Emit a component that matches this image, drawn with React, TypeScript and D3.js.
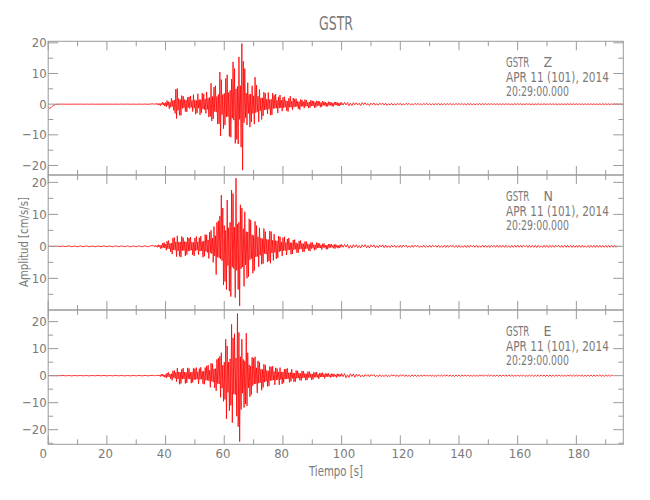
import React from "react";
import * as d3 from "d3";

// ---------------- data ----------------
const title = "GSTR";
const station = "GSTR";
const components = ["Z", "N", "E"];
const dateLabel = "APR 11 (101), 2014";
const timeLabel = "20:29:00.000";
const xLabel = "Tiempo [s]";
const yLabel = "Amplitud [cm/s/s]";
const xDomain = [0, 196];
const xTickLabels = [0, 20, 40, 60, 80, 100, 120, 140, 160, 180];
const yDomains = [
  [-23.1, 20.5],
  [-19.9, 22.3],
  [-25.4, 24.3],
];

// sampling of the segments (seconds)
const startT0 = 0, startDt = 0.5;
const quietT0 = 4, quietDt = 1;
const strongT0 = 36, strongDt = 0.25;
const tailT0 = 100, tailDt = 0.5;

// --- Z component ---
const zStart = [-0.9, -1.4, -1.1, -0.6, -0.3, -0.15, -0.05, 0];
const zQuiet = [0, 0.02, -0.02, 0.01, -0.02, 0.02, -0.01, 0.02, -0.02, 0.01, -0.01, 0.02, -0.02, 0.01, -0.02, 0.02,
  -0.01, 0.02, -0.02, 0.01, -0.02, 0.02, -0.01, 0.03, -0.02, 0.02, -0.03, 0.03, -0.02, 0.04, -0.05, 0.06];
const zStrong = [
  0.1, -0.05, 0.15, -0.1,
  0.3, -0.15, 0.2, -0.3,
  0.2, -0.5, 0.3, -0.2,
  0.7, -0.3, 0.4, -0.6,
  0.5, -0.9, 1.2, -0.4,
  0.8, -1.5, 0.6, -1,
  1.9, -0.8, 1.2, -2,
  1.3, -3, 4.9, -4.7,
  5.1, -2, 1.8, -3.6,
  1.5, -3.7, 2.8, -1.4,
  2.6, -1.2, 1.5, -2.4,
  1.3, -2.5, 2.2, -1.1,
  2.4, -1.4, 2.7, -1,
  1.2, -2.4, 3.1, -1.3,
  1.4, -3.3, 1.2, -2.9,
  3.4, -1.3, 1.5, -3.5,
  1.5, -2.8, 3.6, -1.6,
  3.3, -1.8, 1.7, -3,
  4, -1.7, 1.9, -4.2,
  2.2, -4, 6.8, -5.5,
  2.5, -4.8, 5.6, -2.4,
  6, -2.6, 2.5, -6.5,
  3.2, -6.4, 10.5, -10.4,
  8, -3.4, 3.1, -8,
  3.5, -6.8, 8.4, -4.2,
  9.6, -4, 3.8, -10.5,
  4.5, -10.8, 8.2, -4.6,
  13.8, -5.2, 11.6, -12.8,
  5, -11.5, 5.8, -13,
  15.4, -5, 6, -14,
  19.8, -21.5, 14, -6,
  11.6, -4.4, 3.6, -6.8,
  7, -3, 3.2, -7.5,
  3.3, -5.8, 6, -3,
  2.7, -6.5, 8.8, -2.8,
  6.2, -2.5, 2.6, -5.8,
  4.8, -2.2, 2, -5,
  2.1, -3.8, 3.9, -1.9,
  3.6, -1.8, 1.6, -3.2,
  3.8, -1.6, 1.5, -3.6,
  1.6, -3.5, 3.6, -1.4,
  2.9, -1.4, 3.3, -1.3,
  1.3, -2.9, 2.4, -1.3,
  3, -1.2, 1.3, -2.3,
  2.2, -1.2, 2.4, -1,
  1.2, -2.1, 1, -2.4,
  1.9, -1, 2.6, -1,
  1, -1.8, 2, -1,
  1.7, -0.8, 1.8, -0.8,
  0.9, -1.5, 0.8, -1.8,
  1.5, -0.8, 1.4, -0.7,
  0.8, -1.3, 1.5, -0.7,
  1.3, -0.7, 0.6, -1.3,
  0.7, -1.1, 1.3, -0.6,
  1.1, -0.6, 1, -1.2,
  0.6, -1, 1.1, -0.5,
  1, -0.5, 0.9, -1,
  0.5, -0.8, 1, -0.4,
  0.8, -0.4, 0.7, -0.8,
  0.4, -0.7, 0.8, -0.4,
  0.7, -0.4, 0.6, -0.7,
  0.3, -0.7, 0.7, -0.3,
  0.7, -0.3, 0.6, -0.6,
  0.3, -0.6, 0.5, -0.3,
];
const zTail = [
  0.55, -0.3, 0.6, -0.25, 0.5, -0.55, 0.3, -0.5, 0.5, -0.25,
  0.45, -0.25, 0.3, -0.45, 0.5, -0.2, 0.45, -0.25, 0.2, -0.45,
  0.35, -0.2, 0.4, -0.35, 0.2, -0.35, 0.3, -0.15, 0.35, -0.3,
  0.3, -0.35, 0.15, -0.25, 0.3, -0.3, 0.15, -0.3, 0.3, -0.15,
  0.25, -0.3, 0.15, -0.25, 0.3, -0.15, 0.25, -0.25, 0.15, -0.25,
  0.25, -0.15, 0.25, -0.2, 0.15, -0.25, 0.2, -0.15, 0.25, -0.2,
  0.2, -0.25, 0.15, -0.2, 0.2, -0.15, 0.25, -0.2, 0.15, -0.2,
  0.2, -0.2, 0.2, -0.15, 0.2, -0.2, 0.15, -0.2, 0.2, -0.15,
  0.2, -0.15, 0.2, -0.2, 0.15, -0.2, 0.2, -0.15, 0.15, -0.2,
  0.15, -0.2, 0.15, -0.15, 0.2, -0.15, 0.15, -0.15, 0.2, -0.15,
  0.15, -0.15, 0.2, -0.15, 0.15, -0.15, 0.15, -0.2, 0.15, -0.15,
  0.15, -0.15, 0.15, -0.1, 0.15, -0.15, 0.1, -0.15, 0.15, -0.1,
  0.15, -0.1, 0.15, -0.15, 0.1, -0.15, 0.15, -0.1, 0.1, -0.15,
  0.1, -0.15, 0.1, -0.1, 0.15, -0.1, 0.1, -0.1, 0.15, -0.1,
  0.1, -0.1, 0.15, -0.1, 0.1, -0.1, 0.1, -0.15, 0.1, -0.1,
  0.1, -0.12, 0.1, -0.1, 0.12, -0.1, 0.1, -0.1, 0.12, -0.1,
  0.1, -0.1, 0.12, -0.1, 0.1, -0.12, 0.1, -0.1, 0.1, -0.12,
  0.12, -0.1, 0.1, -0.1, 0.1, -0.12, 0.1, -0.1, 0.12, -0.1,
  0.1, -0.1, 0.1, -0.12, 0.1, -0.1, 0.12, -0.1, 0.1, -0.1,
  0.1, -0.1, 0.05,
];

// --- N component ---
const nStart = [0, 0.05, -0.05, 0.04, -0.05, 0.06, -0.04, 0.05];
const nQuiet = [-0.1, 0.12, -0.1, 0.15, -0.12, 0.1, -0.15, 0.12, -0.1, 0.14, -0.12, 0.1, -0.14, 0.12, -0.1, 0.15,
  -0.12, 0.1, -0.15, 0.14, -0.12, 0.15, -0.1, 0.12, -0.16, 0.14, -0.12, 0.15, -0.14, 0.16, -0.15, 0.18];
const nStrong = [
  0.2, -0.1, 0.3, -0.1,
  0.2, -0.3, 0.5, -0.2,
  0.3, -0.7, 0.4, -0.6,
  1, -0.4, 1.2, -0.5,
  0.7, -1.2, 1.6, -0.7,
  1.8, -0.8, 0.9, -1.7,
  1, -2.4, 2.6, -1.1,
  2.8, -1.2, 1.4, -3.2,
  3.3, -1.4, 1.3, -3.1,
  1.4, -3.4, 3.1, -1.3,
  2.7, -1.3, 1.5, -3,
  1.4, -2.6, 2.8, -1.5,
  2.6, -1.4, 2.9, -1.2,
  1.3, -2.7, 1.2, -3,
  2.6, -1.4, 3.1, -1.2,
  1.4, -2.6, 2.7, -1.5,
  3.2, -1.4, 1.5, -3.4,
  1.7, -3.1, 3.7, -1.6,
  3.6, -1.9, 2, -3.8,
  4.4, -2, 5, -2.3,
  2.6, -5, 6.2, -3,
  3.3, -8.8, 7.5, -3.4,
  8, -3.6, 9.5, -4,
  16, -4.5, 12, -12.1,
  6.5, -11, 5, -13.5,
  14.5, -6, 5.8, -14,
  7.5, -15.7, 17.6, -6.5,
  16.5, -7, 6, -16,
  21.3, -7.5, 7, -13.5,
  7.5, -18.6, 13, -7,
  12, -6.5, 5.5, -12.5,
  10.8, -5.8, 4.6, -10,
  4.5, -9.5, 8.6, -4.2,
  8.2, -3.8, 3.6, -8.4,
  3.4, -7.6, 7.8, -3.3,
  6.5, -3.2, 3, -6.4,
  5.8, -2.8, 2.6, -5.6,
  2.4, -5.4, 5.6, -2.3,
  4.6, -2.4, 2.2, -4.9,
  2.1, -4.6, 4.8, -5.3,
  4.6, -2, 1.9, -4.4,
  3.8, -1.9, 1.8, -3.9,
  1.7, -3.6, 3.2, -1.7,
  3, -1.5, 1.4, -3,
  2.7, -1.4, 3, -1.3,
  1.2, -2.7, 2.3, -1.2,
  2.6, -1.1, 1.2, -2.5,
  1.1, -2.4, 2, -1.1,
  2.1, -0.9, 1.1, -2,
  0.9, -2, 1.7, -0.9,
  1.8, -0.8, 0.9, -1.7,
  0.8, -1.7, 1.5, -0.8,
  1.5, -0.7, 0.8, -1.3,
  0.6, -1.5, 1.2, -0.7,
  1.2, -0.6, 0.5, -1.2,
  0.5, -1, 1.2, -0.5,
  1, -0.5, 0.9, -0.5,
  0.4, -1, 0.8, -0.4,
  0.9, -0.4, 0.4, -0.9,
  0.4, -0.9, 0.7, -0.4,
  0.7, -0.4, 0.7, -0.3,
  0.3, -0.6, 0.6, -0.7,
  0.6, -0.3, 0.3, -0.6,
  0.3, -0.5, 0.5, -0.3,
];
const nTail = [
  0.6, -0.3, 0.6, -0.25, 0.55, -0.6, 0.3, -0.55, 0.5, -0.25,
  0.5, -0.45, 0.25, -0.5, 0.45, -0.2, 0.5, -0.45, 0.25, -0.5,
  0.45, -0.2, 0.45, -0.45, 0.2, -0.45, 0.4, -0.2, 0.45, -0.4,
  0.4, -0.35, 0.2, -0.4, 0.35, -0.2, 0.35, -0.35, 0.2, -0.35,
  0.35, -0.35, 0.4, -0.15, 0.35, -0.35, 0.15, -0.35, 0.35, -0.3,
  0.35, -0.15, 0.3, -0.35, 0.15, -0.3, 0.35, -0.3, 0.15, -0.3,
  0.3, -0.3, 0.35, -0.15, 0.3, -0.3, 0.3, -0.35, 0.15, -0.3,
  0.3, -0.35, 0.3, -0.3, 0.35, -0.15, 0.3, -0.3, 0.3, -0.35,
  0.35, -0.3, 0.15, -0.3, 0.3, -0.35, 0.3, -0.3, 0.35, -0.15,
  0.3, -0.3, 0.3, -0.35, 0.15, -0.3, 0.35, -0.3, 0.3, -0.3,
  0.3, -0.35, 0.3, -0.15, 0.3, -0.3, 0.35, -0.3, 0.3, -0.3,
  0.3, -0.3, 0.35, -0.3, 0.15, -0.35, 0.3, -0.3, 0.3, -0.3,
  0.35, -0.3, 0.3, -0.3, 0.3, -0.15, 0.3, -0.35, 0.3, -0.3,
  0.3, -0.3, 0.3, -0.35, 0.3, -0.3, 0.15, -0.3, 0.35, -0.3,
  0.3, -0.35, 0.3, -0.3, 0.3, -0.3, 0.35, -0.15, 0.3, -0.3,
  0.3, -0.3, 0.35, -0.3, 0.3, -0.3, 0.3, -0.35, 0.3, -0.3,
  0.3, -0.3, 0.3, -0.3, 0.35, -0.3, 0.15, -0.3, 0.3, -0.35,
  0.3, -0.3, 0.3, -0.35, 0.3, -0.3, 0.3, -0.3, 0.3, -0.3,
  0.3, -0.3, 0.3, -0.3, 0.3, -0.3, 0.3, -0.3, 0.2,
];

// --- E component ---
const eStart = [0, 0.04, -0.04, 0.05, -0.04, 0.03, -0.05, 0.04];
const eQuiet = [-0.06, 0.08, -0.07, 0.06, -0.08, 0.07, -0.06, 0.08, -0.07, 0.06, -0.08, 0.07, -0.06, 0.09, -0.07, 0.08,
  -0.09, 0.07, -0.08, 0.1, -0.07, 0.09, -0.1, 0.08, -0.09, 0.1, -0.08, 0.1, -0.09, 0.1, -0.1, 0.1];
const eStrong = [
  0.1, -0.05, 0.1, -0.05,
  0.2, -0.1, 0.3, -0.1,
  0.2, -0.3, 0.5, -0.2,
  0.6, -0.3, 0.3, -0.6,
  0.4, -0.8, 1, -0.4,
  1.2, -0.5, 0.6, -1.2,
  0.7, -1.7, 1.8, -0.7,
  1.9, -1, 1.2, -2.2,
  2.8, -1.2, 1.4, -3.2,
  1.3, -2.9, 2.4, -1.3,
  2.8, -1.2, 1.3, -2.9,
  1.2, -2.7, 2.9, -1.1,
  2.7, -1.3, 1.2, -2.8,
  1.4, -2.5, 2.7, -1.5,
  2.6, -1.4, 3, -1.3,
  1.4, -3, 2.6, -1.4,
  3.1, -1.3, 1.6, -3,
  1.7, -3.2, 3, -1.7,
  3.6, -1.7, 3.9, -1.9,
  2, -4.3, 4.6, -2.1,
  4.4, -2.4, 2.5, -4.5,
  2.6, -5.6, 6, -2.9,
  6.5, -3.1, 7.2, -8,
  8.5, -4.6, 3.9, -9.5,
  5, -8.8, 13.5, -16,
  11, -6.2, 5, -13,
  6.2, -11, 19, -17.4,
  14, -6.8, 15.5, -7,
  6.5, -15, 23, -18.9,
  16, -24.4, 7, -12.5,
  13.5, -6.5, 6, -11.8,
  5.5, -10.5, 15.7, -11.2,
  8.5, -4.5, 4, -7.8,
  3.6, -7, 6.8, -3.7,
  6.5, -3.1, 7, -3,
  2.9, -6.4, 5.5, -2.8,
  5, -2.6, 2.4, -5.4,
  2.3, -4.4, 4.2, -2.4,
  4, -2.1, 1.9, -4,
  1.8, -3.8, 3.4, -1.8,
  3.3, -1.8, 3.5, -1.6,
  1.5, -3.4, 2.9, -1.6,
  2.7, -1.5, 1.4, -3.4,
  3, -1.4, 1.3, -3.1,
  1.4, -2.6, 2.4, -1.3,
  2.5, -1.2, 2.7, -1.2,
  1.1, -2.5, 1.2, -2.1,
  2.4, -1, 1, -2.3,
  1, -2.2, 1.9, -1,
  1.8, -0.9, 1, -1.7,
  0.8, -1.8, 1.7, -0.8,
  1.7, -0.8, 0.8, -1.7,
  0.7, -1.6, 1.5, -0.7,
  1.5, -0.7, 0.7, -1.5,
  0.6, -1.4, 1.2, -0.6,
  1.2, -0.6, 1.3, -0.6,
  0.5, -1.2, 1, -0.5,
  1, -0.5, 1.1, -0.5,
  0.5, -1, 0.8, -0.4,
  0.8, -0.4, 0.9, -0.4,
  0.4, -0.7, 0.7, -0.4,
  0.7, -0.4, 0.6, -0.3,
  0.3, -0.7, 0.7, -0.3,
  0.6, -0.3, 0.5, -0.3,
];
const eTail = [
  0.8, -0.35, 0.75, -0.8, 0.3, -0.65, 0.7, -0.3, 0.65, -0.6,
  0.55, -0.25, 0.5, -0.45, 0.2, -0.45, 0.4, -0.2, 0.4, -0.4,
  0.4, -0.15, 0.4, -0.4, 0.15, -0.4, 0.35, -0.35, 0.15, -0.35,
  0.35, -0.35, 0.15, -0.35, 0.35, -0.15, 0.35, -0.3, 0.3, -0.35,
  0.3, -0.15, 0.35, -0.3, 0.3, -0.3, 0.15, -0.35, 0.3, -0.3,
  0.3, -0.3, 0.15, -0.25, 0.3, -0.3, 0.25, -0.15, 0.3, -0.25,
  0.3, -0.25, 0.25, -0.3, 0.15, -0.25, 0.3, -0.25, 0.25, -0.25,
  0.25, -0.15, 0.3, -0.25, 0.25, -0.25, 0.15, -0.3, 0.25, -0.25,
  0.25, -0.3, 0.25, -0.15, 0.25, -0.25, 0.3, -0.25, 0.15, -0.25,
  0.25, -0.25, 0.25, -0.3, 0.25, -0.15, 0.25, -0.25, 0.3, -0.25,
  0.25, -0.25, 0.3, -0.25, 0.15, -0.25, 0.25, -0.25, 0.25, -0.3,
  0.25, -0.15, 0.25, -0.25, 0.3, -0.25, 0.25, -0.25, 0.15, -0.25,
  0.3, -0.25, 0.25, -0.25, 0.25, -0.3, 0.15, -0.25, 0.25, -0.25,
  0.25, -0.25, 0.15, -0.25, 0.25, -0.25, 0.3, -0.25, 0.25, -0.25,
  0.25, -0.3, 0.25, -0.25, 0.15, -0.25, 0.25, -0.25, 0.3, -0.25,
  0.25, -0.25, 0.25, -0.3, 0.25, -0.15, 0.25, -0.25, 0.25, -0.25,
  0.25, -0.25, 0.3, -0.25, 0.25, -0.25, 0.15, -0.25, 0.25, -0.25,
  0.25, -0.25, 0.25, -0.25, 0.25, -0.2, 0.25, -0.25, 0.2, -0.25,
  0.25, -0.2, 0.2, -0.25, 0.2, -0.1,
];

const channelStart = [zStart, nStart, eStart];
const channelQuiet = [zQuiet, nQuiet, eQuiet];
const channelStrong = [zStrong, nStrong, eStrong];
const channelTail = [zTail, nTail, eTail];

// ---------------- layout ----------------
const W = 650;
const H = 500;
const LEFT = 48.2;
const RIGHT = 623.3;
const panelTops = [41.3, 175, 310];
const panelBottoms = [175, 310, 444.3];
const LINE_COLOR = "#9a9a9a";
const TEXT_COLOR = "#7a7a7a";
const FONT = "'Liberation Sans Narrow', 'DejaVu Sans Condensed', 'DejaVu Sans', sans-serif";

function buildSeries(ci: number): [number, number][] {
  const pts: [number, number][] = [];
  const segs: [number, number, number[]][] = [
    [startT0, startDt, channelStart[ci]],
    [quietT0, quietDt, channelQuiet[ci]],
    [strongT0, strongDt, channelStrong[ci]],
    [tailT0, tailDt, channelTail[ci]],
  ];
  segs.forEach(([t0, dt, vals]) => {
    vals.forEach((v, i) => pts.push([t0 + i * dt, v]));
  });
  return pts;
}

export default function App() {
  const x = d3.scaleLinear().domain(xDomain).range([LEFT, RIGHT]);
  const xMajor = d3.range(0, xDomain[1] + 0.001, 20);
  const xMinor = d3.range(10, xDomain[1] + 0.001, 20);

  return (
    <svg
      width={W}
      height={H}
      viewBox={`0 0 ${W} ${H}`}
      style={{ position: "absolute", left: 0, top: 0, background: "#fff" }}
      fontFamily={FONT}
    >
      <rect x={0} y={0} width={W} height={H} fill="#fff" />
      <text x={336} y={30} fontSize={19} fill={TEXT_COLOR} textAnchor="middle" textLength={34} lengthAdjust="spacingAndGlyphs">
        {title}
      </text>
      {components.map((comp, ci) => {
        const top = panelTops[ci];
        const bottom = panelBottoms[ci];
        const y = d3.scaleLinear().domain(yDomains[ci]).range([bottom, top]);
        const [lo, hi] = yDomains[ci];
        const yMajor = d3.range(Math.ceil(lo / 10) * 10, hi + 0.001, 10);
        const yMinor = d3.range(Math.ceil(lo / 5) * 5, hi + 0.001, 5).filter((v) => Math.abs(v % 10) > 0.001);
        const line = d3
          .line<[number, number]>()
          .x((d) => x(d[0]))
          .y((d) => y(d[1]));
        const series = buildSeries(ci);
        return (
          <g key={comp}>
            <path d={line(series) || ""} fill="none" stroke="#ff0000" strokeWidth={0.8} strokeLinejoin="round" />
            <rect x={LEFT} y={top} width={RIGHT - LEFT} height={bottom - top} fill="none" stroke={LINE_COLOR} strokeWidth={1} />
            {xMajor.map((v) => (
              <g key={"xM" + v}>
                <line x1={x(v)} x2={x(v)} y1={top} y2={top + 9} stroke={LINE_COLOR} />
                <line x1={x(v)} x2={x(v)} y1={bottom} y2={bottom - 9} stroke={LINE_COLOR} />
              </g>
            ))}
            {xMinor.map((v) => (
              <g key={"xm" + v}>
                <line x1={x(v)} x2={x(v)} y1={top} y2={top + 5} stroke={LINE_COLOR} />
                <line x1={x(v)} x2={x(v)} y1={bottom} y2={bottom - 5} stroke={LINE_COLOR} />
              </g>
            ))}
            {yMajor.map((v) => (
              <g key={"yM" + v}>
                <line x1={LEFT} x2={LEFT + 10} y1={y(v)} y2={y(v)} stroke={LINE_COLOR} />
                <line x1={RIGHT} x2={RIGHT - 10} y1={y(v)} y2={y(v)} stroke={LINE_COLOR} />
                <text x={46.7} y={y(v) + 4.5} fontSize={13} fill={TEXT_COLOR} textAnchor="end">
                  {v < 0 ? "\u2212" + Math.abs(v) : String(v)}
                </text>
              </g>
            ))}
            {yMinor.map((v) => (
              <g key={"ym" + v}>
                <line x1={LEFT} x2={LEFT + 5} y1={y(v)} y2={y(v)} stroke={LINE_COLOR} />
                <line x1={RIGHT} x2={RIGHT - 5} y1={y(v)} y2={y(v)} stroke={LINE_COLOR} />
              </g>
            ))}
            <text x={506} y={top + 25.5} fontSize={14} fill={TEXT_COLOR} textLength={23.3} lengthAdjust="spacingAndGlyphs">
              {station}
            </text>
            <text x={543.5} y={top + 25.5} fontSize={14} fill={TEXT_COLOR}>
              {comp}
            </text>
            <text x={506} y={top + 40.5} fontSize={14} fill={TEXT_COLOR} textLength={103} lengthAdjust="spacingAndGlyphs">
              {dateLabel}
            </text>
            <text x={506} y={top + 55} fontSize={14} fill={TEXT_COLOR} textLength={63} lengthAdjust="spacingAndGlyphs">
              {timeLabel}
            </text>
          </g>
        );
      })}
      {xTickLabels.map((v) => (
        <text key={"xl" + v} x={x(v) - 8.8} y={458} fontSize={13} fill={TEXT_COLOR} textAnchor="start">
          {String(v)}
        </text>
      ))}
      <text x={336} y={476} fontSize={14} fill={TEXT_COLOR} textAnchor="middle" textLength={54} lengthAdjust="spacingAndGlyphs">
        {xLabel}
      </text>
      <text
        transform="translate(28,242) rotate(-90)"
        fontSize={13}
        fill={TEXT_COLOR}
        textAnchor="middle"
        textLength={90}
        lengthAdjust="spacingAndGlyphs"
      >
        {yLabel}
      </text>
    </svg>
  );
}
